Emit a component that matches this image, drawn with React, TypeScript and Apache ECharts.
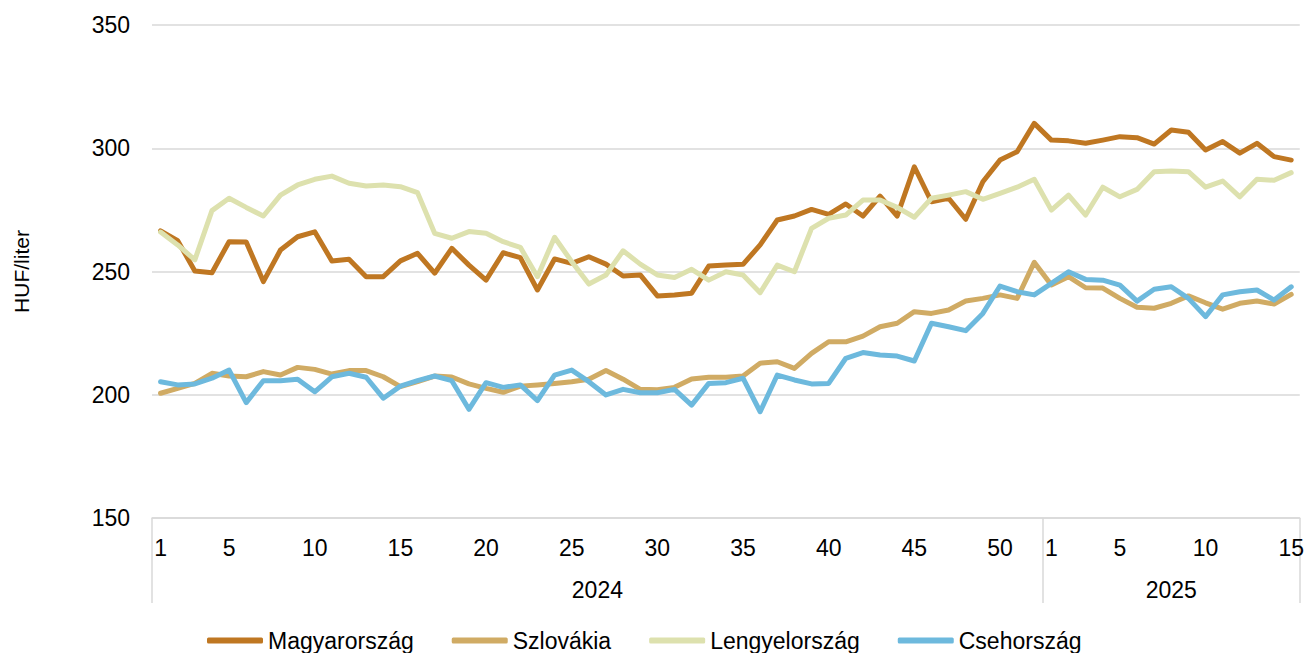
import React, { useEffect, useRef } from "react";
import * as echarts from "echarts";

const weeks2024: number[] = Array.from({ length: 52 }, (_, i) => i + 1);
const weeks2025: number[] = Array.from({ length: 15 }, (_, i) => i + 1);
const weekLabels: string[] = [...weeks2024, ...weeks2025].map(String);
const years: string[] = ["2024", "2025"];
const yTicks = { min: 150, max: 350, interval: 50 };

const magyarorszag: number[] = [
  266.5, 262.5, 250.2, 249.5, 262.1, 262, 245.9, 258.7, 264.1, 266.1,
  254.3, 255, 247.9, 247.9, 254.3, 257.4, 249.3, 259.4, 252.6, 246.5,
  257.6, 255.6, 242.5, 255.1, 253.3, 256, 253, 248.2, 248.6, 240.1,
  240.5, 241.2, 252.2, 252.6, 252.9, 260.8, 270.9, 272.5, 275.2, 273.2,
  277.4, 272.5, 280.6, 272.5, 292.5, 278.3, 279.7, 271.2, 286.4, 295.2,
  298.6, 310.1,
  303.3, 303, 302, 303.3, 304.7, 304.3, 301.7, 307.4, 306.5, 299.3,
  302.7, 298, 302, 296.6, 295.2,
];

const szlovakia: number[] = [
  200.6, 202.6, 204.6, 208.7, 207.6, 207.3, 209.4, 208, 211.1, 210.3,
  208.4, 209.8, 209.8, 207.3, 203.3, 205.3, 207.6, 207.2, 204.4, 202.6,
  201, 203.5, 204, 204.6, 205.3, 206.3, 209.8, 206.3, 202.2, 202,
  203, 206.4, 207.1, 207.1, 207.6, 212.8, 213.4, 210.7, 216.8, 221.5,
  221.5, 223.8, 227.6, 229, 233.7, 233, 234.4, 238, 239.1, 240.5,
  239.1, 253.7,
  244.5, 247.9, 243.4, 243.3, 239.1, 235.5, 235.1, 237.1, 240.1, 237.3,
  234.7, 237.1, 238, 236.8, 240.7,
];

const lengyelorszag: number[] = [
  266, 260.8, 254.7, 274.7, 279.7, 276, 272.5, 281, 285.1, 287.4,
  288.7, 285.8, 284.7, 285.1, 284.4, 282, 265.5, 263.5, 266.2, 265.5,
  262.1, 259.8, 247.9, 263.9, 254, 244.9, 248.6, 258.4, 253, 248.6,
  247.6, 250.9, 246.5, 249.9, 248.6, 241.4, 252.6, 249.9, 267.5, 271.6,
  272.9, 279, 279, 276, 272, 279.7, 281, 282.4, 279.3, 281.7,
  284.2, 287.4,
  274.9, 281, 272.9, 284.2, 280.3, 283.3, 290.5, 290.8, 290.5, 284.2,
  286.7, 280.3, 287.4, 287, 290.1,
];

const csehorszag: number[] = [
  205.3, 204, 204.4, 206.7, 210, 196.8, 205.7, 205.7, 206.3, 201.2,
  207.3, 208.7, 207.1, 198.6, 203.5, 205.7, 207.6, 205.7, 194.1, 204.9,
  203, 204, 197.6, 208, 210, 205.3, 199.9, 202.2, 200.8, 200.8,
  202.2, 195.8, 204.6, 204.9, 206.7, 193.1, 208, 206, 204.4, 204.6,
  214.8, 217.1, 216.1, 215.7, 213.7, 229, 227.6, 226, 233, 244.1,
  241.8, 240.5,
  245.2, 249.9, 246.8, 246.5, 244.5, 238, 242.8, 243.8, 239.1, 231.7,
  240.5, 241.8, 242.5, 238.4, 243.8,
];

const seriesNames: string[] = ["Magyarország", "Szlovákia", "Lengyelország", "Csehország"];
const seriesColors: string[] = ["#BF7722", "#D0AB64", "#DDE1AE", "#6DB9DD"];
const seriesData: number[][] = [magyarorszag, szlovakia, lengyelorszag, csehorszag];

const FONT = "'Liberation Sans', Arial, sans-serif";

export default function App() {
  const ref = useRef<HTMLDivElement>(null);
  useEffect(() => {
    document.body.style.margin = "0";
    if (!ref.current) return;
    const chart = echarts.init(ref.current, undefined, { renderer: "svg" });
    const n2024 = weeks2024.length;
    const nAll = weekLabels.length;
    chart.setOption({
      animation: false,
      textStyle: { fontFamily: FONT },
      grid: { left: 152, right: 7, top: 25, bottom: 135, containLabel: false },
      legend: {
        top: 624,
        left: 202,
        itemWidth: 56,
        itemHeight: 6,
        itemGap: 38,
        icon: "roundRect",
        data: seriesNames,
        textStyle: { fontSize: 23, color: "#000", fontFamily: FONT },
      },
      xAxis: [
        {
          type: "category",
          data: weekLabels,
          boundaryGap: true,
          axisLine: { lineStyle: { color: "#d9d9d9", width: 1.5 } },
          axisTick: { show: false },
          axisLabel: {
            interval: 0,
            margin: 18,
            fontSize: 23,
            color: "#000",
            fontFamily: FONT,
            formatter: (v: string) => {
              const w = Number(v);
              return w === 1 || w % 5 === 0 ? v : "";
            },
          },
          splitLine: { show: false },
        },
        {
          type: "value",
          min: 0,
          max: nAll,
          position: "bottom",
          axisLine: { show: false },
          splitLine: { show: false },
          axisTick: {
            show: true,
            customValues: [0, n2024, nAll],
            length: 85,
            lineStyle: { color: "#d9d9d9", width: 1.5 },
          },
          axisLabel: {
            customValues: [n2024 / 2, n2024 + (nAll - n2024) / 2],
            margin: 60,
            fontSize: 23,
            color: "#000",
            fontFamily: FONT,
            formatter: (v: number) => (v < n2024 ? years[0] : years[1]),
          },
        },
      ],
      yAxis: {
        type: "value",
        min: yTicks.min,
        max: yTicks.max,
        interval: yTicks.interval,
        name: "HUF/liter",
        nameLocation: "middle",
        nameGap: 120,
        nameRotate: 90,
        nameTextStyle: { fontSize: 21, color: "#000", fontFamily: FONT },
        axisLine: { show: false },
        axisTick: { show: false },
        axisLabel: { margin: 22, fontSize: 23, color: "#000", fontFamily: FONT },
        splitLine: { lineStyle: { color: "#d9d9d9", width: 1.5 } },
      },
      series: seriesNames.map((name, i) => ({
        name,
        type: "line",
        xAxisIndex: 0,
        data: seriesData[i],
        showSymbol: false,
        symbol: "none",
        smooth: false,
        color: seriesColors[i],
        itemStyle: { color: seriesColors[i] },
        lineStyle: { color: seriesColors[i], width: 5, cap: "round", join: "round" },
      })),
    });
    return () => chart.dispose();
  }, []);
  return <div ref={ref} style={{ width: 1307, height: 653 }} />;
}
